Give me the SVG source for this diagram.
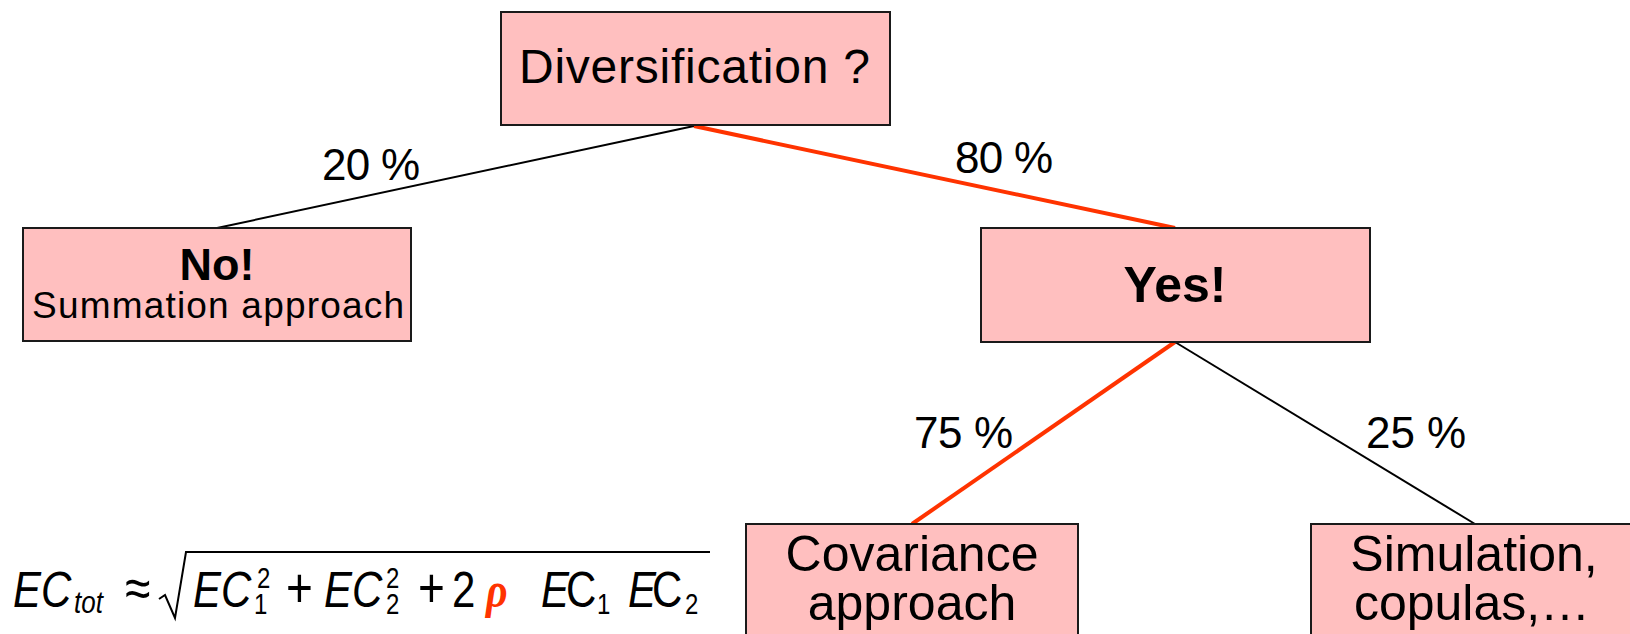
<svg xmlns="http://www.w3.org/2000/svg" width="1630" height="634" viewBox="0 0 1630 634">
<style>
.box{fill:#FFBFBF;stroke:#1a1a1a;stroke-width:2}
.t{font-family:"Liberation Sans",Arial,sans-serif;fill:#000}
.lbl{font-family:"Liberation Sans",Arial,sans-serif;font-size:44px;fill:#000}
.blk{stroke:#000;stroke-width:2;fill:none}
.red{stroke:#FF3300;stroke-width:4;fill:none}
.m{font-family:"Liberation Sans",Arial,sans-serif;font-size:42px;fill:#000}
.i{font-style:italic}
.s{font-size:24px}
.op{font-size:46px}
</style>
<rect width="1630" height="634" fill="#fff"/>
<g id="connectors">
<line class="blk" x1="694" y1="126" x2="217" y2="228"/>
<line class="red" x1="694" y1="126" x2="1175" y2="228"/>
<line class="red" x1="1175" y1="342" x2="912" y2="524"/>
<line class="blk" x1="1175" y1="342" x2="1475" y2="524"/>
<text class="lbl" x="322" y="180" textLength="98">20 %</text>
<text class="lbl" x="955" y="173" textLength="98">80 %</text>
<text class="lbl" x="914" y="448" textLength="99">75 %</text>
<text class="lbl" x="1366" y="448" textLength="100">25 %</text>
</g>
<g id="node-diversification">
<rect class="box" x="501" y="12" width="389" height="113"/>
<text class="t" x="519" y="83" font-size="48" textLength="351">Diversification ?</text>
</g>
<g id="node-no">
<rect class="box" x="23" y="228" width="388" height="113"/>
<text class="t" x="217" y="280" font-size="45" font-weight="bold" text-anchor="middle">No!</text>
<text class="t" x="32" y="318" font-size="37" textLength="372">Summation approach</text>
</g>
<g id="node-yes">
<rect class="box" x="981" y="228" width="389" height="114"/>
<text class="t" x="1175" y="302" font-size="50" font-weight="bold" text-anchor="middle">Yes!</text>
</g>
<g id="node-covariance">
<rect class="box" x="746" y="524" width="332" height="130"/>
<text class="t" x="912" y="571" font-size="50" text-anchor="middle">Covariance</text>
<text class="t" x="912" y="620" font-size="50" text-anchor="middle">approach</text>
</g>
<g id="node-simulation">
<rect class="box" x="1311" y="524" width="332" height="130"/>
<text class="t" x="1474" y="571" font-size="50" text-anchor="middle">Simulation,</text>
<text class="t" x="1472" y="620" font-size="50" text-anchor="middle">copulas,…</text>
</g>
<g id="formula">
<path d="M159,599 L165,595 L175,618 L186,552 H710" fill="none" stroke="#000" stroke-width="2"/>
<g transform="matrix(1,0,0,1.2,0,-121.4)">
<text class="m i" x="13" y="607">EC</text>
<text class="m i" x="74" y="612" style="font-size:26px">tot</text>
<text class="m op" x="125" y="607">≈</text>
<text class="m i" x="193" y="607">EC</text>
<text class="m s" x="257" y="591">2</text>
<text class="m s" x="254" y="613">1</text>
<text class="m op" x="286" y="607">+</text>
<text class="m i" x="324" y="607">EC</text>
<text class="m s" x="386" y="591">2</text>
<text class="m s" x="386" y="613">2</text>
<text class="m op" x="418" y="607">+</text>
<text class="m" x="452" y="607">2</text>
<text x="486" y="607" font-family="'Liberation Serif','Times New Roman',serif" font-size="42" font-weight="bold" font-style="italic" fill="#FF3300">ρ</text>
<text class="m i" x="541" y="607">E</text>
<text class="m" x="566" y="607">C</text>
<text class="m s" x="597" y="613">1</text>
<text class="m i" x="628" y="607">E</text>
<text class="m" x="652" y="607">C</text>
<text class="m s" x="685" y="613">2</text>
</g>
</g>
</svg>
